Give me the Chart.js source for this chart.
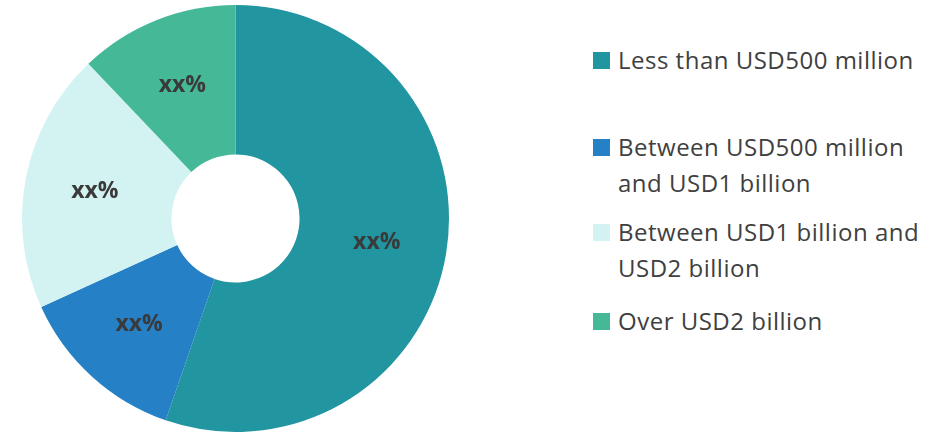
<!DOCTYPE html>
<html lang="en">
<head>
  <meta charset="UTF-8">
  <title>Revenue bands</title>
  <script src="https://cdn.jsdelivr.net/npm/chart.js@4.4.0/dist/chart.umd.min.js"></script>
  <style>
    html, body { margin: 0; padding: 0; background: #fff; }
    body { width: 943px; height: 432px; position: relative; overflow: hidden; font-family: "Open Sans", sans-serif; }
    .pie-box { position: absolute; left: 22px; top: 5px; width: 427px; height: 427px; }
    .legend { position: absolute; left: 593px; top: 42px; margin: 0; padding: 0; list-style: none; }
    .legend li { position: relative; padding-left: 25px; font-size: 24px; letter-spacing: 0.5px; line-height: 36px; color: #404040; white-space: nowrap; }
    .legend li span.box { position: absolute; left: 0; top: 10px; width: 17px; height: 17px; }
    .legend li:nth-child(2) { margin-top: 51px; }
    .legend li:nth-child(3) { margin-top: 13px; }
    .legend li:nth-child(4) { margin-top: 17px; }
  </style>
</head>
<body>
  <div class="pie-box"><canvas id="bands"></canvas></div>
  <ul class="legend" id="legend"></ul>

  <script>
    // revenue bands, one line per legend row
    const categories = [
      ['Less than USD500 million'],
      ['Between USD500 million', 'and USD1 billion'],
      ['Between USD1 billion and', 'USD2 billion'],
      ['Over USD2 billion']
    ];
    const shares = [55.3, 12.9, 19.7, 12.1];
    const sliceLabels = ['xx%', 'xx%', 'xx%', 'xx%'];
    const colors = ['#2195a0', '#2680c6', '#d3f3f3', '#45b997'];

    // legend built as html so the wrapped names stay on two lines
    const legend = document.getElementById('legend');
    categories.forEach((lines, i) => {
      const li = document.createElement('li');
      const box = document.createElement('span');
      box.className = 'box';
      box.style.background = colors[i];
      li.appendChild(box);
      lines.forEach((t, j) => {
        if (j > 0) li.appendChild(document.createElement('br'));
        li.appendChild(document.createTextNode(t));
      });
      legend.appendChild(li);
    });

    // writes the text label a little past the middle of each ring segment
    const sliceText = {
      id: 'sliceText',
      afterDatasetsDraw(chart) {
        const ctx = chart.ctx;
        const meta = chart.getDatasetMeta(0);
        ctx.save();
        ctx.font = 'bold 23px "Open Sans", sans-serif';
        ctx.fillStyle = '#3a3a3a';
        ctx.textAlign = 'center';
        ctx.textBaseline = 'middle';
        meta.data.forEach((arc, i) => {
          const a = arc.getProps(['x', 'y', 'startAngle', 'endAngle', 'innerRadius', 'outerRadius'], true);
          const mid = (a.startAngle + a.endAngle) / 2;
          const r = a.innerRadius + (a.outerRadius - a.innerRadius) * 0.53;
          ctx.fillText(sliceLabels[i], a.x + Math.cos(mid) * r, a.y + Math.sin(mid) * r);
        });
        ctx.restore();
      }
    };

    new Chart(document.getElementById('bands'), {
      type: 'doughnut',
      data: {
        labels: categories.map(l => l.join(' ')),
        datasets: [{
          data: shares,
          backgroundColor: colors,
          borderWidth: 0
        }]
      },
      options: {
        responsive: true,
        maintainAspectRatio: false,
        animation: false,
        cutout: '30%',
        layout: { padding: 0 },
        plugins: {
          legend: { display: false },
          tooltip: { enabled: false }
        }
      },
      plugins: [sliceText]
    });
  </script>
</body>
</html>
